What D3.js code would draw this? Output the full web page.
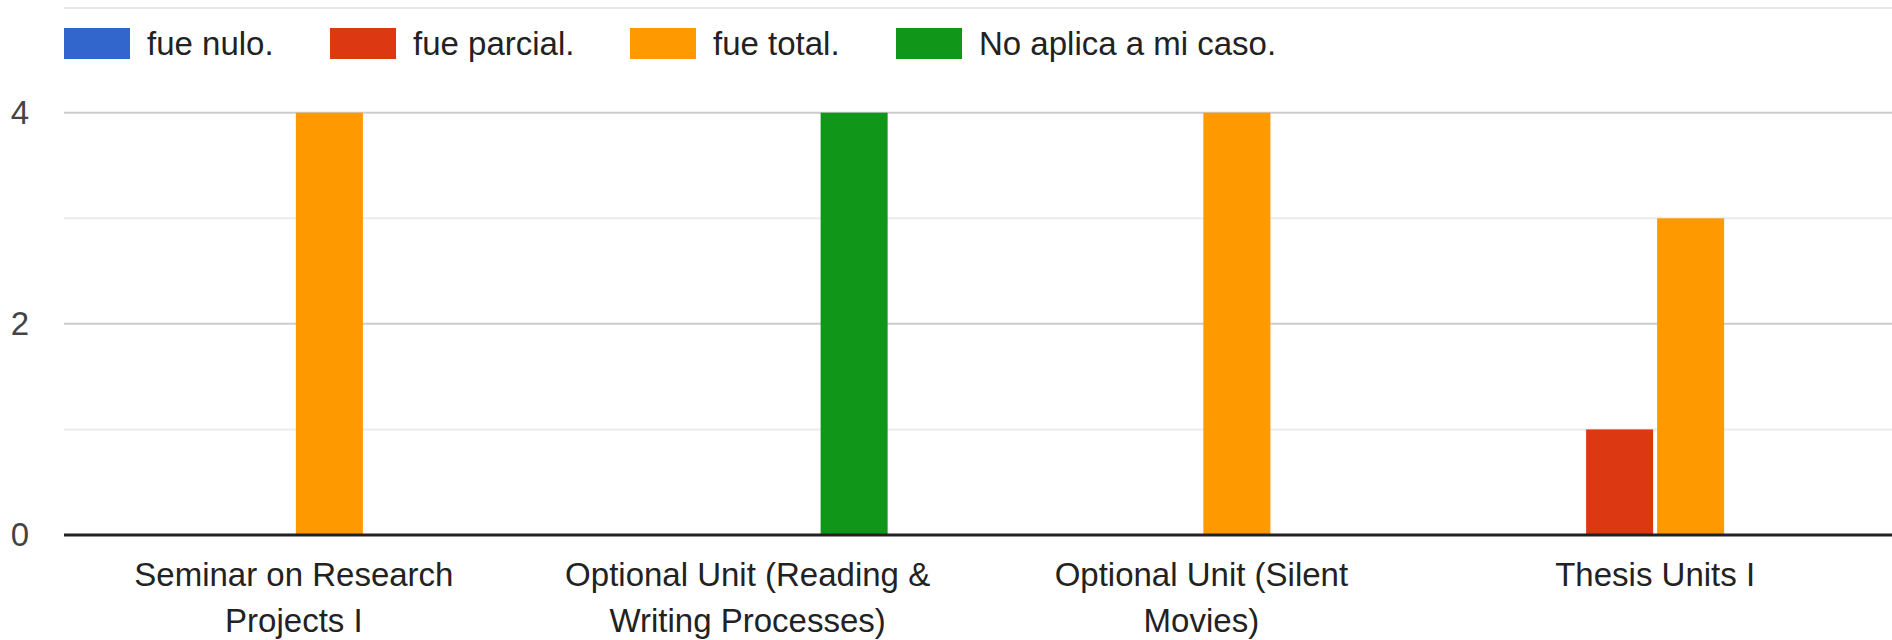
<!DOCTYPE html>
<html>
<head>
<meta charset="utf-8">
<script src="https://cdn.jsdelivr.net/npm/d3@7"></script>
<style>
  html, body { margin: 0; padding: 0; background: #fff; }
  svg { display: block; font-family: "Liberation Sans", Arial, sans-serif; }
</style>
</head>
<body>
<svg id="chart" width="1892" height="640"></svg>
<script>
// ---- data ----
const categories = [
  "Seminar on Research Projects I",
  "Optional Unit (Reading & Writing Processes)",
  "Optional Unit (Silent Movies)",
  "Thesis Units I"
];
const categoryLines = [
  ["Seminar on Research", "Projects I"],
  ["Optional Unit (Reading &", "Writing Processes)"],
  ["Optional Unit (Silent", "Movies)"],
  ["Thesis Units I"]
];
const seriesNames = ["fue nulo.", "fue parcial.", "fue total.", "No aplica a mi caso."];
const seriesColors = ["#3366cc", "#dc3912", "#ff9900", "#109618"];
const fueNulo = [0, 0, 0, 0];
const fueParcial = [0, 0, 0, 1];
const fueTotal = [4, 0, 4, 3];
const noAplica = [0, 4, 0, 0];
const yTicks = [0, 1, 2, 3, 4];
const yTickLabels = ["0", "", "2", "", "4"];

const seriesValues = [fueNulo, fueParcial, fueTotal, noAplica];

// ---- layout ----
const svg = d3.select("#chart");
const W = 1892, H = 640;
svg.append("rect").attr("width", W).attr("height", H).attr("fill", "#fff");

const gridLeft = 64, gridRight = 1892;
const x0 = d3.scaleBand().domain(categories).range([67, 1882]).paddingInner(0).paddingOuter(0);
const groupW = 284;
const x1 = d3.scaleBand().domain(seriesNames).range([0, groupW]).paddingInner(0.056).paddingOuter(0.028);
const y = d3.scaleLinear().domain([0, 4]).range([535, 112.7]);

// top faint line
svg.append("line").attr("x1", gridLeft).attr("x2", W).attr("y1", 8).attr("y2", 8)
  .attr("stroke", "#e6e6e6").attr("stroke-width", 2);

// gridlines
svg.append("g").selectAll("line").data(yTicks.filter(d => d !== 0)).join("line")
  .attr("x1", gridLeft).attr("x2", gridRight)
  .attr("y1", d => y(d)).attr("y2", d => y(d))
  .attr("stroke", d => d % 2 === 0 ? "#cccccc" : "#ebebeb")
  .attr("stroke-width", 2);

// y axis labels
const yAxis = d3.axisLeft(y).tickValues(yTicks)
  .tickFormat((d, i) => yTickLabels[i]).tickSize(0).tickPadding(0);
const yG = svg.append("g").attr("transform", "translate(29,0)").call(yAxis);
yG.select(".domain").remove();
yG.selectAll("text").attr("font-size", 33).attr("fill", "#444")
  .attr("font-family", "'Liberation Sans', Arial, sans-serif");

// bars
const groups = svg.append("g").selectAll("g").data(categories).join("g")
  .attr("transform", d => `translate(${x0(d) + x0.bandwidth() / 2 - groupW / 2},0)`);
groups.selectAll("rect")
  .data((c, ci) => seriesNames.map((s, si) => ({ s, si, v: seriesValues[si][ci] })))
  .join("rect")
  .filter(d => d.v > 0)
  .attr("x", d => x1(d.s))
  .attr("width", x1.bandwidth())
  .attr("y", d => y(d.v))
  .attr("height", d => y(0) - y(d.v))
  .attr("fill", d => seriesColors[d.si]);

// baseline
svg.append("line").attr("x1", gridLeft).attr("x2", gridRight)
  .attr("y1", y(0)).attr("y2", y(0)).attr("stroke", "#222").attr("stroke-width", 3);

// x axis labels
const xAxis = d3.axisBottom(x0).tickSize(0).tickFormat(() => "");
const xG = svg.append("g").attr("transform", `translate(0,${y(0)})`).call(xAxis);
xG.select(".domain").remove();
xG.selectAll(".tick text").each(function (d, i) {
  const t = d3.select(this).attr("y", 0).attr("dy", null)
    .attr("font-size", 33).attr("fill", "#222")
    .attr("font-family", "'Liberation Sans', Arial, sans-serif");
  t.text(null);
  categoryLines[i].forEach((ln, k) => {
    t.append("tspan").attr("x", 0).attr("y", 51 + k * 46).text(ln);
  });
});

// legend
const legendX = [64, 330, 630, 896];
const leg = svg.append("g").selectAll("g").data(seriesNames).join("g")
  .attr("transform", (d, i) => `translate(${legendX[i]},28)`);
leg.append("rect").attr("width", 66).attr("height", 31).attr("fill", (d, i) => seriesColors[i]);
leg.append("text").attr("x", 83).attr("y", 27).attr("font-size", 33).attr("fill", "#222")
  .text(d => d);
</script>
</body>
</html>
